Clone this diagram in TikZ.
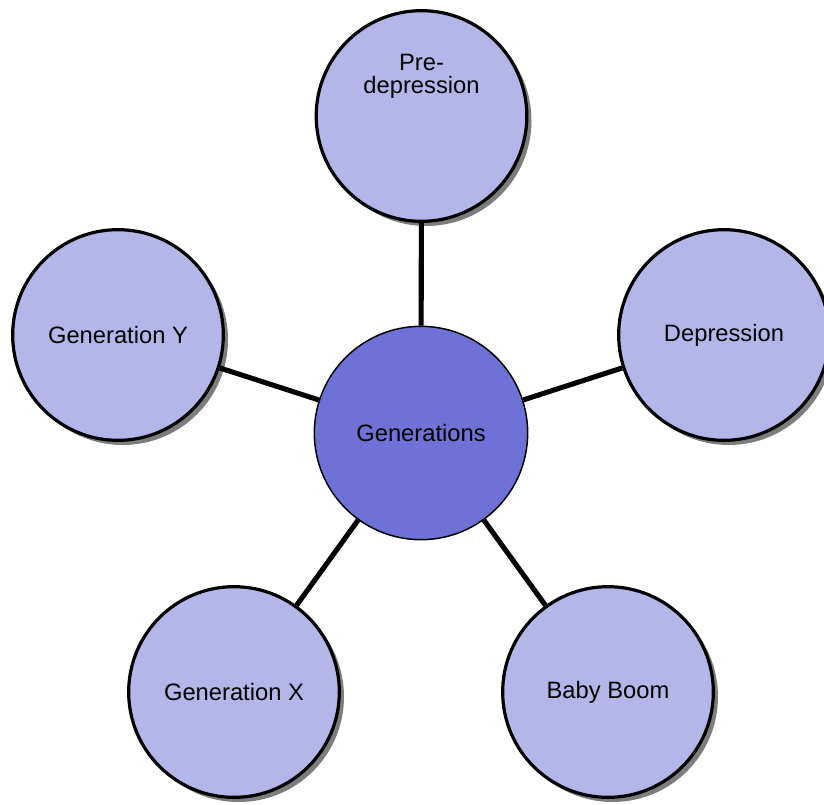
\documentclass[tikz,border=0pt]{standalone}
\usepackage{fontspec}
\setmainfont{Liberation Sans}
\usetikzlibrary{shadows}
\definecolor{outerfill}{RGB}{180,181,232}
\definecolor{centerfill}{RGB}{110,113,213}
\definecolor{shadowgray}{RGB}{125,125,125}
\tikzset{
  outer/.style={circle, draw=black, line width=2.4pt, fill=outerfill,
    minimum size=158pt, inner sep=0pt,
    drop shadow={shadow xshift=3.5pt, shadow yshift=-3.5pt, fill=shadowgray, opacity=1},
    font=\fontsize{17.8}{16.5}\selectfont, align=center},
  hub/.style={circle, draw=black, line width=1.1pt, fill=centerfill,
    minimum size=160pt, inner sep=0pt, font=\fontsize{17.8}{16.5}\selectfont},
  lbl/.style={font=\fontsize{17.8}{17.5}\selectfont, align=center, inner sep=0pt},
  spoke/.style={line width=3.8pt, black}
}
\begin{document}
\begin{tikzpicture}[x=0.75pt, y=-0.75pt]
\useasboundingbox (0,0) rectangle (824,804);
\node[hub] (c) at (421,433) {Generations};
\node[outer] (pd) at (421.5,116) {};
\node[lbl] (pdt) at (421.5,76) {Pre-\\depression};
\node[outer] (d) at (724,335) {Depression};
\node[outer] (gy) at (118,335) {Generation Y};
\node[outer] (gx) at (234,692) {Generation X};
\node[outer] (bb) at (608,692) {Baby Boom};
\draw[spoke] (c) -- (pd);
\draw[spoke] (c) -- (d);
\draw[spoke] (c) -- (gy);
\draw[spoke] (c) -- (gx);
\draw[spoke] (c) -- (bb);
\end{tikzpicture}
\end{document}
